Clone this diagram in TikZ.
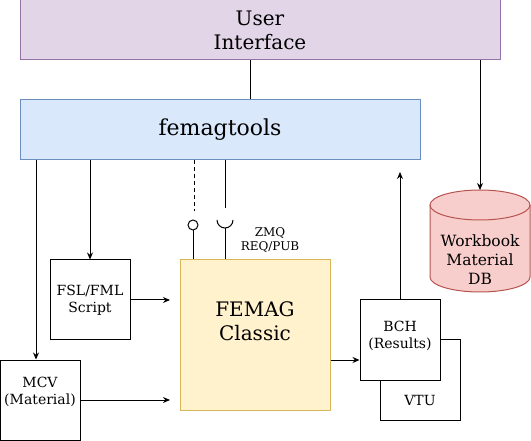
\documentclass[tikz,border=0pt]{standalone}
\usepackage{fontspec}
\setmainfont{DejaVu Serif}
\usetikzlibrary{arrows.meta}
\definecolor{uifill}{HTML}{E1D5E7}
\definecolor{uidraw}{HTML}{9673A6}
\definecolor{fefill}{HTML}{DAE8FC}
\definecolor{fedraw}{HTML}{6C8EBF}
\definecolor{dbfill}{HTML}{F8CECC}
\definecolor{dbdraw}{HTML}{B85450}
\definecolor{fcfill}{HTML}{FFF2CC}
\definecolor{fcdraw}{HTML}{D6B656}
\tikzset{
  box/.style={draw=black, fill=white, line width=1pt, inner sep=0pt, align=center},
  arr/.style={line width=1pt, -{Stealth[length=7pt,width=6pt]}},
  ln/.style={line width=1pt},
}
\begin{document}
\begin{tikzpicture}[x=1pt,y=-1pt]
\useasboundingbox (0,0) rectangle (531,441);
% User interface
\node[box, draw=uidraw, fill=uifill, minimum width=480, minimum height=60, font=\fontsize{20}{24}\selectfont] (ui) at (260,30) {User\\Interface};
% femagtools
\node[box, draw=fedraw, fill=fefill, minimum width=400, minimum height=60, font=\fontsize{22}{26}\selectfont] (fem) at (220,130) {femagtools};
% DB cylinder
\path[draw=dbdraw, fill=dbfill, line width=1pt] (430,205) -- (430,277) arc[start angle=180, end angle=0, x radius=50, y radius=15] -- (530,205) arc[start angle=0, end angle=-180, x radius=50, y radius=15] -- cycle;
\draw[dbdraw, line width=1pt] (430,205) arc[start angle=180, end angle=0, x radius=50, y radius=15];
\node[align=center, inner sep=0pt, font=\fontsize{15.5}{19}\selectfont] (db) at (480,260) {Workbook\\Material\\DB};
\coordinate (dbtop) at (480,190);
% FSL
\node[box, minimum width=80, minimum height=80, font=\fontsize{14}{17}\selectfont] (fsl) at (90,300) {FSL/FML\\Script};
% MCV
\node[box, minimum width=80, minimum height=80, label={[font=\fontsize{14}{17}\selectfont, align=center, yshift=8pt]center:MCV\\(Material)}] (mcv) at (40,400) {};
% FEMAG
\node[box, draw=fcdraw, fill=fcfill, minimum width=150, minimum height=150, label={[font=\fontsize{20}{24}\selectfont, align=center, yshift=14pt]center:FEMAG\\Classic}] (femag) at (255,335) {};
% VTU and BCH
\node[box, minimum width=80, minimum height=80, label={[font=\fontsize{14}{17}\selectfont, yshift=-20pt]center:VTU}] (vtu) at (420,380) {};
\node[box, minimum width=80, minimum height=80, label={[font=\fontsize{14}{17}\selectfont, align=center, yshift=4pt]center:BCH\\(Results)}] (bch) at (400,340) {};
% ZMQ label
\node[align=center, inner sep=0pt, font=\fontsize{12}{14}\selectfont] (zmq) at (270,240) {ZMQ\\REQ/PUB};
% connectors
\draw[ln] (ui.south -| 250,0) -- (fem.north -| 250,0);
\draw[arr] (ui.south -| dbtop) -- (dbtop);
\draw[arr] (fem.south -| fsl) -- (fsl.north);
\draw[arr] (fem.south -| 36,0) -- (mcv.north -| 36,0);
\draw[arr] (fsl.east) -- (fsl.east -| 170,0);
\draw[arr] (mcv.east) -- (mcv.east -| 170,0);
\draw[arr] (femag.east |- 0,360) -- (bch.west |- 0,360);
\draw[arr] (bch.north) -- (bch.north |- 0,172);
% ZMQ ball and socket
\draw[ln, dash pattern=on 4pt off 3pt] (fem.south -| 194,0) -- (194,211);
\draw[ln] (193,225) circle[radius=5];
\draw[ln] (193,230) -- (femag.north -| 193,0);
\draw[ln] (fem.south -| 225,0) -- (225,208);
\draw[ln] (217,220) arc[start angle=180, end angle=0, radius=8];
\draw[ln] (225,228) -- (femag.north -| 225,0);
\end{tikzpicture}
\end{document}
